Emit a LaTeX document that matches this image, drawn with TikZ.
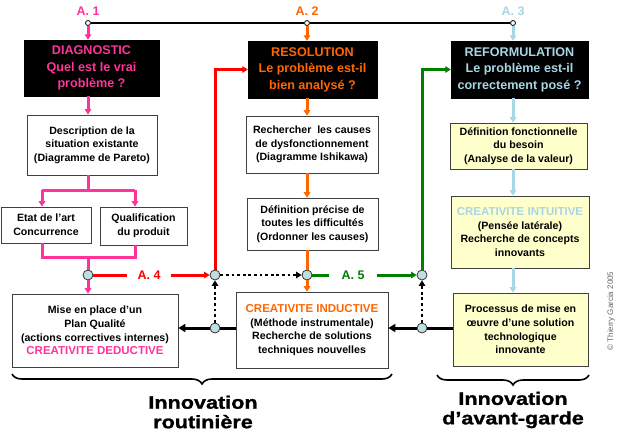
\documentclass[tikz,border=0pt]{standalone}
\usepackage{fontspec}
\setmainfont{Liberation Sans}
\newfontfamily\widefont[FakeStretch=1.2,FakeBold=1.2]{Liberation Sans}
\usetikzlibrary{arrows.meta,decorations.pathreplacing,calc}
\definecolor{pk}{RGB}{255,51,153}
\definecolor{og}{RGB}{255,102,0}
\definecolor{lb}{RGB}{168,214,228}
\definecolor{rd}{RGB}{255,0,0}
\definecolor{gn}{RGB}{0,128,0}
\definecolor{yl}{RGB}{255,255,204}
\definecolor{jf}{RGB}{190,222,224}
\begin{document}
\begin{tikzpicture}[x=1pt,y=-1pt,
  box/.style={draw=black!75, line width=0.7pt, fill=white, align=center, inner sep=1pt,
    font=\bfseries\fontsize{10.6}{13.6}\selectfont},
  ybox/.style={box, fill=yl},
  blk/.style={draw=black, fill=black, align=center, inner sep=1pt,
    font=\bfseries\fontsize{12.6}{16.5}\selectfont},
  jn/.style={circle, draw=black!80, fill=jf, line width=0.8pt, minimum size=10pt, inner sep=0pt},
  tp/.style={circle, draw=black, fill=white, line width=0.8pt, minimum size=5pt, inner sep=0pt},
  alab/.style={font=\bfseries\fontsize{12.5}{14}\selectfont, inner sep=0pt},
  arr/.style={-{Triangle[length=5.5pt,width=6.5pt]}},
  barr/.style={-{Triangle[length=7pt,width=8pt]}},
  pkl/.style={draw=pk, line width=3pt},
  rdl/.style={draw=rd, line width=3pt},
  ogl/.style={draw=og, line width=3pt},
  lbl/.style={draw=lb, line width=3pt},
  gnl/.style={draw=gn, line width=3pt},
  bkl/.style={draw=black, line width=3pt},
  dotl/.style={draw=black, line width=2.8pt, dash pattern=on 2.8pt off 2.8pt},
  bigl/.style={align=center, font=\widefont\bfseries\fontsize{18}{19.5}\selectfont}
]
\fill[white] (0,0) rectangle (620,432);
\useasboundingbox (0,0) rectangle (620,432);

% top line circles and labels
\node[tp] (a1) at (88,23) {};
\node[tp] (a2) at (307,23) {};
\node[tp] (a3) at (513,23) {};
\node[alab, text=pk] (l1) at (88,11) {A. 1};
\node[alab, text=og] (l2) at (307,11) {A. 2};
\node[alab, text=lb] (l3) at (513,11) {A. 3};
\draw[line width=2.6pt] (a1) -- (a2) -- (a3);

% column 1
\node[blk, text=pk, minimum width=135pt, minimum height=56pt] (b1) at (91.5,68) {DIAGNOSTIC\\Quel est le vrai\\problème ?};
\node[box, minimum width=130pt, minimum height=60pt] (d1) at (92,145) {Description de la\\situation existante\\(Diagramme de Pareto)};
\node[box, minimum width=90pt, minimum height=36pt] (e1) at (46,225) {Etat de l’art\\Concurrence};
\node[box, minimum width=87pt, minimum height=38pt] (q1) at (143.5,226) {Qualification\\du produit};
\node[box, minimum width=166pt, minimum height=73pt] (m1) at (95,330.5) {Mise en place d’un\\Plan Qualité\\(actions correctives internes)\\\textcolor{pk}{\fontsize{11.5}{13.6}\selectfont CREATIVITE DEDUCTIVE}};

% column 2
\node[blk, text=og, minimum width=129pt, minimum height=57pt] (b2) at (312.5,69.5) {RESOLUTION\\Le problème est-il\\bien analysé ?};
\node[box, minimum width=132pt, minimum height=57pt] (d2) at (312,144.5) {Rechercher\ \ les causes\\de dysfonctionnement\\(Diagramme Ishikawa)};
\node[box, minimum width=131pt, minimum height=52pt] (p2) at (312.5,224) {Définition précise de\\toutes les difficultés\\(Ordonner les causes)};
\node[box, minimum width=152pt, minimum height=76pt] (c2) at (312,330) {\textcolor{og}{\fontsize{11.5}{13.6}\selectfont CREATIVITE INDUCTIVE}\\(Méthode instrumentale)\\Recherche de solutions\\techniques nouvelles};

% column 3
\node[blk, text=lb, minimum width=137pt, minimum height=57pt] (b3) at (519.5,69.5) {REFORMULATION\\Le problème est-il\\correctement posé ?};
\node[ybox, minimum width=137pt, minimum height=46pt] (f3) at (518.5,146) {Définition fonctionnelle\\du besoin\\(Analyse de la valeur)};
\node[ybox, minimum width=138pt, minimum height=72pt] (i3) at (520,232) {\textcolor{lb}{\fontsize{11.5}{13.6}\selectfont CREATIVITE INTUITIVE}\\(Pensée latérale)\\Recherche de concepts\\innovants};
\node[ybox, minimum width=135pt, minimum height=73pt] (p3) at (520.5,329.5) {Processus de mise en\\œuvre d’une solution\\technologique\\innovante};

% junctions
\node[jn] (j1) at (88,275) {};
\node[jn] (j2) at (215,275) {};
\node[jn] (j3) at (307,275) {};
\node[jn] (j4) at (422,275) {};
\node[jn] (k2) at (215,328) {};
\node[jn] (k4) at (422,328) {};

\node[alab, text=rd, inner xsep=10pt] (A4) at (149,275) {A. 4};
\node[alab, text=gn, inner xsep=12pt] (A5) at (353,275) {A. 5};

% pink connectors
\coordinate (f1) at (88,190); \coordinate (fl) at (42,190); \coordinate (fr) at (135,190);
\coordinate (g1) at (88,257); \coordinate (gl) at (42,257); \coordinate (gr) at (135,257);
\draw[pkl,arr] (a1) -- (a1 |- b1.north);
\draw[pkl,arr] (b1.south -| a1) -- (a1 |- d1.north);
\draw[pkl] (d1.south -| f1) -- (f1);
\draw[pkl] (fl) -- (fr);
\draw[pkl,arr] (fl) -- (fl |- e1.north);
\draw[pkl,arr] (fr) -- (fr |- q1.north);
\draw[pkl] (gl |- e1.south) -- (gl) -- (gr) -- (gr |- q1.south);
\draw[pkl] (g1) -- (j1);
\draw[pkl,arr] (j1) -- (j1 |- m1.north);

% red
\draw[rdl] (j1) -- (A4.west);
\draw[rdl,arr] (A4.east) -- (j2);
\draw[rdl,arr] (j2) |- (b2.west);

% orange
\draw[ogl,arr] (a2) -- (a2 |- b2.north);
\draw[ogl,arr] (b2.south -| a2) -- (a2 |- d2.north);
\draw[ogl,arr] (d2.south -| a2) -- (a2 |- p2.north);
\draw[ogl] (p2.south -| a2) -- (j3);
\draw[ogl,arr] (j3) -- (j3 |- c2.north);

% green
\draw[gnl] (j3) -- (A5.west);
\draw[gnl,arr] (A5.east) -- (j4);
\draw[gnl,arr] (j4) |- (b3.west);

% light blue
\draw[lbl,arr] (a3) -- (a3 |- b3.north);
\draw[lbl,arr] (b3.south -| a3) -- (a3 |- f3.north);
\draw[lbl,arr] (f3.south -| a3) -- (a3 |- i3.north);
\draw[lbl,arr] (i3.south -| a3) -- (a3 |- p3.north);

% dotted
\draw[dotl,arr] (j2) -- (j3);
\draw[dotl,arr] (k2) -- (j2);
\draw[dotl,arr] (k4) -- (j4);

% black return arrows
\draw[bkl] (c2.west |- k2) -- (k2);
\draw[bkl,barr] (k2) -- (m1.east |- k2);
\draw[bkl] (p3.west |- k4) -- (k4);
\draw[bkl,barr] (k4) -- (c2.east |- k4);

% braces
\draw[line width=1.6pt, decorate, decoration={brace, mirror, amplitude=10pt}] (12,374) -- (392,374);
\draw[line width=1.6pt, decorate, decoration={brace, mirror, amplitude=10pt}] (437,375) -- (589,375);

\node[bigl] (t1) at (203,412) {Innovation\\routinière};
\node[bigl] (t2) at (513,410) {Innovation\\d’avant-garde};

\node[rotate=90, text=black!60, font=\fontsize{8}{9}\selectfont] (cp) at (611,311) {© Thierry Garcia 2005};
\end{tikzpicture}
\end{document}
